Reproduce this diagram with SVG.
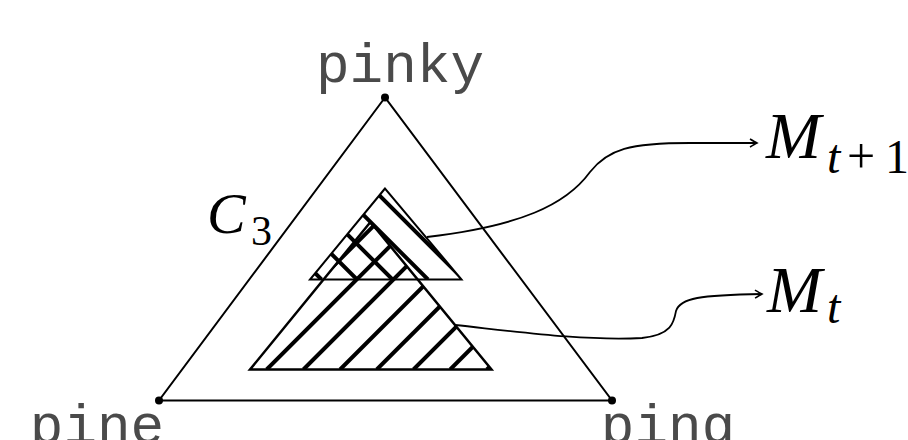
<svg xmlns="http://www.w3.org/2000/svg" width="908" height="440" viewBox="0 0 908 440">
<style>
.edge{fill:none;stroke:#000;stroke-width:2;stroke-linejoin:miter}
.hatch{stroke:#000;stroke-width:4}
.conn{fill:none;stroke:#000;stroke-width:1.8}
.tt{font-family:"Liberation Mono","DejaVu Sans Mono",monospace;font-size:56px;fill:#4a4a4a}
.math{font-family:"Liberation Serif","DejaVu Serif",serif;fill:#000}
</style>
<defs>
<marker id="arr" viewBox="-8 -5 10 10" refX="0" refY="0" markerWidth="10" markerHeight="10" markerUnits="userSpaceOnUse" orient="auto">
<path d="M-7,-4 Q-2,-1 0,0 Q-2,1 -7,4" fill="none" stroke="#000" stroke-width="1.5"/>
</marker>
<clipPath id="clipL"><polygon points="370.5,222 250,369.5 491.5,369.5"/></clipPath>
<clipPath id="clipU"><polygon points="385,188.5 310,279.5 461.5,279.5"/></clipPath>
</defs>
<g id="simplex">
<polygon class="edge" points="385,97.5 159,400.5 612,400.5"/>
<circle cx="385" cy="97.5" r="4"/>
<circle cx="159" cy="400.5" r="4"/>
<circle cx="612" cy="400.5" r="4"/>
</g>
<g id="pinky"><text class="tt" x="400" y="82" text-anchor="middle">pinky</text></g>
<g id="pine"><text class="tt" x="97" y="443" text-anchor="middle">pine</text></g>
<g id="ping"><text class="tt" x="668" y="443" text-anchor="middle">ping</text></g>
<g id="c3"><text class="math" x="207" y="233" font-size="58" font-style="italic">C</text><text class="math" x="251" y="245" font-size="42">3</text></g>
<g id="Mt">
<g clip-path="url(#clipL)">
<line class="hatch" x1="230" y1="369.5" x2="430" y2="169.5"/>
<line class="hatch" x1="266.7" y1="369.5" x2="466.7" y2="169.5"/>
<line class="hatch" x1="303.4" y1="369.5" x2="503.4" y2="169.5"/>
<line class="hatch" x1="340.1" y1="369.5" x2="540.1" y2="169.5"/>
<line class="hatch" x1="376.8" y1="369.5" x2="576.8" y2="169.5"/>
<line class="hatch" x1="413.5" y1="369.5" x2="613.5" y2="169.5"/>
<line class="hatch" x1="450.2" y1="369.5" x2="650.2" y2="169.5"/>
<line class="hatch" x1="486.9" y1="369.5" x2="686.9" y2="169.5"/>
</g>
<polygon class="edge" style="stroke-width:2.5" points="370.5,222 250,369.5 491.5,369.5"/>
</g>
<g id="Mt1">
<g clip-path="url(#clipU)">
<line class="hatch" x1="321.5" y1="279.5" x2="201.5" y2="159.5"/>
<line class="hatch" x1="357" y1="279.5" x2="237" y2="159.5"/>
<line class="hatch" x1="392.5" y1="279.5" x2="272.5" y2="159.5"/>
<line class="hatch" x1="428" y1="279.5" x2="308" y2="159.5"/>
<line class="hatch" x1="463.5" y1="279.5" x2="343.5" y2="159.5"/>
</g>
<polygon class="edge" points="385,188.5 310,279.5 461.5,279.5"/>
</g>
<g id="connectors">
<path class="conn" marker-end="url(#arr)" d="M427,237 C520,226 566,205 590,172 C608,149 630,143 690,143 L757,143"/>
<path class="conn" marker-end="url(#arr)" d="M455,325 C520,332 585,341 642,338 C672,335 674,322 676,311 C680,298 700,295 762,294"/>
</g>
<g id="lblMt1"><text class="math" font-size="66"><tspan x="766" y="158" font-style="italic">M</tspan><tspan x="827" y="173" font-size="48" font-style="italic">t</tspan><tspan x="847" y="173" font-size="50">+</tspan><tspan x="885" y="173" font-size="48">1</tspan></text></g>
<g id="lblMt"><text class="math" font-size="66"><tspan x="767" y="312" font-style="italic">M</tspan><tspan x="827" y="323" font-size="48" font-style="italic">t</tspan></text></g>
</svg>
